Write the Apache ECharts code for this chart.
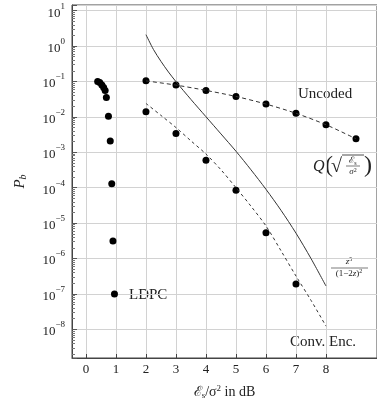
<!DOCTYPE html>
<html>
<head>
<meta charset="utf-8">
<script src="https://cdn.jsdelivr.net/npm/echarts@6/dist/echarts.min.js"></script>
<style>
  html, body { margin: 0; background: #fff; }
  #chart { width: 377px; height: 405px; }
</style>
</head>
<body>
<div id="chart"></div>
<script>
// values
const ldpcX = [0.39, 0.46, 0.53, 0.59, 0.64, 0.68, 0.75, 0.81, 0.86, 0.9, 0.95];
const ldpcPb = [0.1, 0.093, 0.08, 0.068, 0.056, 0.035, 0.0105, 0.0021, 1.3e-4, 3.1e-6, 1e-7];

const uncodedX = [2, 3, 4, 5, 6, 7, 8, 9];
const uncodedPb = [0.104, 0.079, 0.056, 0.0377, 0.023, 0.0126, 0.006, 0.0024];

const boundX = [2, 2.25, 2.5, 2.75, 3, 3.5, 4, 4.5, 5, 5.5, 6, 6.5, 7, 7.5, 8];
const boundPb = [2.1, 0.8, 0.37, 0.185, 0.099, 0.031, 0.0101, 0.0033, 0.00107, 3.2e-4, 9e-5, 2.3e-5, 5.2e-6, 1.0e-6, 1.67e-7];

const convLineX = [2, 2.5, 3, 3.5, 4, 4.5, 5, 5.5, 6, 6.5, 7, 7.5, 8];
const convLinePb = [0.024, 0.011, 0.005, 0.0021, 8.9e-4, 3.2e-4, 1.0e-4, 3.0e-5, 8.3e-6, 1.66e-6, 3.2e-7, 6.6e-8, 1.23e-8];

const convX = [2, 3, 4, 5, 6, 7];
const convPb = [0.0139, 0.0034, 6e-4, 8.5e-5, 5.3e-6, 1.9e-7];

const xTicks = [0, 1, 2, 3, 4, 5, 6, 7, 8];
const yMin = Math.pow(10, -8.81);
const yMax = Math.pow(10, 1.16);

// minor ticks 2..9 x 10^n, on a hidden linear axis in log10 units
const minorTicks = [];
for (let n = -9; n <= 1; n++) {
  for (let k = 2; k <= 9; k++) {
    const v = n + Math.log10(k);
    if (v > -8.81 && v < 1.16) minorTicks.push(v);
  }
}

const pairs = (xs, ys) => xs.map((x, i) => [x, ys[i]]);

const serif = '"Liberation Serif", "DejaVu Serif", serif';
const ink = '#222';
const dot = { color: '#000', opacity: 1 };

const chart = echarts.init(document.getElementById('chart'));

chart.setOption({
  animation: false,
  grid: {
    left: 72, top: 5, bottom: 47, width: 306,
    show: true, borderColor: '#444', borderWidth: 1
  },
  xAxis: {
    type: 'value',
    min: -0.465,
    max: 9.70,
    name: '{e|ℰ}{s|s}{n|/σ}{p|2}{n| in dB}',
    nameLocation: 'middle',
    nameGap: 26,
    nameTextStyle: {
      rich: {
        e: { fontFamily: serif, fontSize: 14, color: ink },
        s: { fontFamily: serif, fontSize: 9, color: ink, verticalAlign: 'bottom', lineHeight: 14 },
        n: { fontFamily: serif, fontSize: 14, color: ink },
        p: { fontFamily: serif, fontSize: 9, color: ink, verticalAlign: 'top', lineHeight: 16 }
      }
    },
    axisLine: { show: true, onZero: false, lineStyle: { color: '#444', width: 1 } },
    axisTick: { show: true, inside: true, length: 4, customValues: xTicks, lineStyle: { color: '#444' } },
    axisLabel: { customValues: xTicks, margin: 5, fontFamily: serif, fontSize: 13, color: ink },
    splitLine: { show: true, lineStyle: { color: '#d2d2d2', width: 1 } }
  },
  yAxis: [
    {
      type: 'log',
      logBase: 10,
      min: yMin,
      max: yMax,
      splitNumber: 10,
      name: '{p|P}{b|b}',
      nameLocation: 'middle',
      nameGap: 44,
      nameTextStyle: {
        rich: {
          p: { fontFamily: serif, fontStyle: 'italic', fontSize: 15, color: ink },
          b: { fontFamily: serif, fontStyle: 'italic', fontSize: 10, color: ink, verticalAlign: 'bottom', lineHeight: 15 }
        }
      },
      axisLine: { show: true, onZero: false, lineStyle: { color: '#444', width: 1 } },
      axisTick: { show: true, inside: true, length: 5, lineStyle: { color: '#555' } },
      axisLabel: {
        margin: 7,
        formatter: function (v) {
          const e = Math.log10(v);
          const r = Math.round(e);
          if (Math.abs(e - r) > 1e-6) return '';
          return '{b|10}{s|' + (r < 0 ? '−' + (-r) : r) + '}';
        },
        rich: {
          b: { fontFamily: serif, fontSize: 13, color: ink, verticalAlign: 'bottom', lineHeight: 18 },
          s: { fontFamily: serif, fontSize: 9, color: ink, verticalAlign: 'top', lineHeight: 18 }
        }
      },
      splitLine: { show: true, lineStyle: { color: '#d2d2d2', width: 1 } }
    },
    {
      type: 'value',
      position: 'left',
      min: -8.81,
      max: 1.16,
      axisLine: { show: false, onZero: false },
      axisLabel: { show: false },
      splitLine: { show: false },
      axisTick: { show: true, inside: true, length: 3, customValues: minorTicks, lineStyle: { color: '#777' } }
    }
  ],
  series: [
    {
      name: 'LDPC', type: 'scatter', yAxisIndex: 0,
      data: pairs(ldpcX, ldpcPb),
      symbolSize: 7, itemStyle: dot
    },
    {
      name: 'Uncoded curve', type: 'line', yAxisIndex: 0,
      data: pairs(uncodedX, uncodedPb),
      smooth: 0.3, showSymbol: false,
      lineStyle: { color: '#333', width: 1, type: [4, 3] }
    },
    {
      name: 'Uncoded', type: 'scatter', yAxisIndex: 0,
      data: pairs(uncodedX, uncodedPb),
      symbolSize: 7, itemStyle: dot
    },
    {
      name: 'Bound', type: 'line', yAxisIndex: 0,
      data: pairs(boundX, boundPb),
      smooth: 0.3, showSymbol: false,
      lineStyle: { color: '#333', width: 1 }
    },
    {
      name: 'Conv. curve', type: 'line', yAxisIndex: 0,
      data: pairs(convLineX, convLinePb),
      smooth: 0.3, showSymbol: false,
      lineStyle: { color: '#333', width: 1, type: [3, 3] }
    },
    {
      name: 'Conv. Enc.', type: 'scatter', yAxisIndex: 0,
      data: pairs(convX, convPb),
      symbolSize: 7, itemStyle: dot
    }
  ],
  graphic: [
    { type: 'text', x: 298, y: 94, style: { text: 'Uncoded', font: '15px ' + serif, fill: ink, verticalAlign: 'middle' } },
    { type: 'text', x: 129, y: 295, style: { text: 'LDPC', font: '15px ' + serif, fill: ink, verticalAlign: 'middle' } },
    { type: 'text', x: 290, y: 342, style: { text: 'Conv. Enc.', font: '15px ' + serif, fill: ink, verticalAlign: 'middle' } },

    // Q( sqrt(Es / sigma^2) )
    { type: 'text', x: 313, y: 167, style: { text: 'Q', font: 'italic 16px ' + serif, fill: ink, verticalAlign: 'middle' } },
    { type: 'text', x: 325, y: 166, style: { text: '(', font: '24px ' + serif, fill: ink, verticalAlign: 'middle' } },
    { type: 'text', x: 331, y: 167, style: { text: '√', font: '20px ' + serif, fill: ink, verticalAlign: 'middle' } },
    { type: 'line', shape: { x1: 342, y1: 155, x2: 364, y2: 155 }, style: { stroke: ink, lineWidth: 0.8 } },
    {
      type: 'text', x: 353, y: 161,
      style: {
        text: '{e|ℰ}{s|s}', align: 'center', verticalAlign: 'middle',
        rich: {
          e: { fontFamily: serif, fontSize: 9, fill: ink },
          s: { fontFamily: serif, fontSize: 6, fill: ink, verticalAlign: 'bottom', lineHeight: 10 }
        }
      }
    },
    { type: 'line', shape: { x1: 346, y1: 166, x2: 360, y2: 166 }, style: { stroke: ink, lineWidth: 0.6 } },
    {
      type: 'text', x: 353, y: 172,
      style: {
        text: '{i|σ}{s|2}', align: 'center', verticalAlign: 'middle',
        rich: {
          i: { fontFamily: serif, fontStyle: 'italic', fontSize: 9, fill: ink },
          s: { fontFamily: serif, fontSize: 6, fill: ink, verticalAlign: 'top', lineHeight: 10 }
        }
      }
    },
    { type: 'text', x: 364, y: 166, style: { text: ')', font: '24px ' + serif, fill: ink, verticalAlign: 'middle' } },

    // z^5 / (1-2z)^2
    {
      type: 'text', x: 349, y: 262,
      style: {
        text: '{i|z}{s|5}', align: 'center', verticalAlign: 'middle',
        rich: {
          i: { fontFamily: serif, fontStyle: 'italic', fontSize: 9, fill: ink },
          s: { fontFamily: serif, fontSize: 6, fill: ink, verticalAlign: 'top', lineHeight: 11 }
        }
      }
    },
    { type: 'line', shape: { x1: 331, y1: 268, x2: 368, y2: 268 }, style: { stroke: ink, lineWidth: 0.6 } },
    {
      type: 'text', x: 349, y: 274,
      style: {
        text: '{r|(1−2}{i|z}{r|)}{s|2}', align: 'center', verticalAlign: 'middle',
        rich: {
          r: { fontFamily: serif, fontSize: 9, fill: ink },
          i: { fontFamily: serif, fontStyle: 'italic', fontSize: 9, fill: ink },
          s: { fontFamily: serif, fontSize: 6, fill: ink, verticalAlign: 'top', lineHeight: 11 }
        }
      }
    }
  ]
});
</script>
</body>
</html>
